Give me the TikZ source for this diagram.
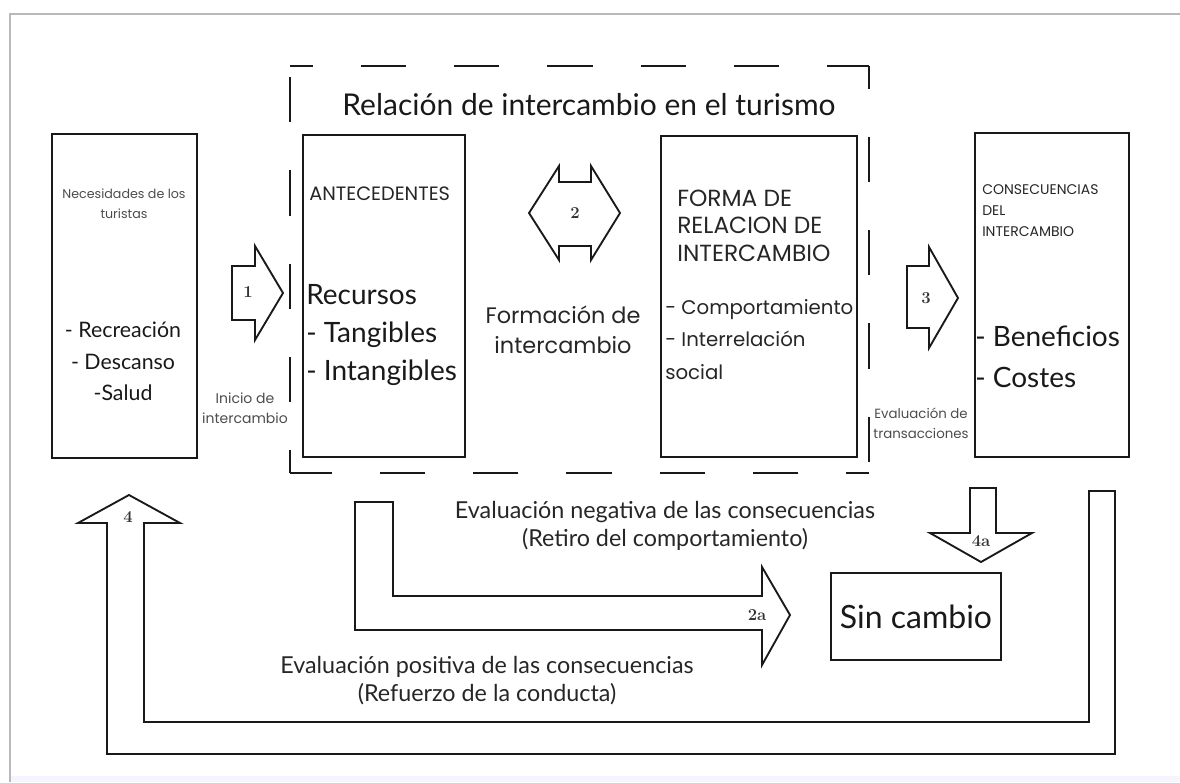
\documentclass[tikz,border=0pt]{standalone}
\usepackage{fontspec}
\newfontfamily\lato{Lato}
\newfontfamily\pop{Poppins}
\newcommand\pxu{0.75pt}

\begin{document}
\begin{tikzpicture}[x=0.75pt, y=-0.75pt,
    caja/.style={draw=black!90, line width=1.5pt, inner sep=0pt},
    flecha/.style={draw=black!90, line width=1.4pt, line join=miter},
    marco/.style={black!90, line width=1.6pt, dash pattern=on 34pt off 36pt, dash phase=17pt},
    num/.style={font=\bfseries\fontsize{12.5}{13}\selectfont, text=black!80, inner sep=0pt},
    chico/.style={font=\pop\fontsize{10.5}{15}\selectfont, text=black!70, align=center, inner sep=0pt},
    grande/.style={font=\lato\fontsize{21}{28.5}\selectfont, text=black!90, align=left, inner sep=0pt},
    mayus/.style={font=\pop\fontsize{14.5}{20.5}\selectfont, text=black!85, align=left, inner sep=0pt},
    medio/.style={font=\pop\fontsize{14.8}{24.4}\selectfont, text=black!85, align=left, inner sep=0pt},
    nota/.style={font=\lato\fontsize{17.5}{21}\selectfont, text=black!85, align=center, inner sep=0pt}]
    \useasboundingbox (0,0) rectangle (1180,782);

    % Marco exterior
    \fill[blue!4] (10,776) rectangle (1180,782);
    \draw[gray!55, line width=1.6pt] (1180,14) -- (10,14) -- (10,782);

    % Recuadro discontinuo
    \draw[marco] (290,66) -- (869,66);
    \draw[marco] (869,66) -- (869,473);
    \draw[marco] (869,473) -- (290,473);
    \draw[marco] (290,473) -- (290,66);
    \node[font=\lato\fontsize{22.5}{24}\selectfont, text=black!90] (titulo) at (589,105) {Relación de intercambio en el turismo};

    % Cajas
    \node[caja, minimum width=145*\pxu, minimum height=324*\pxu] (nec) at (124.5,296) {};
    \node[caja, minimum width=162*\pxu, minimum height=322*\pxu] (ante) at (384,296) {};
    \node[caja, minimum width=196*\pxu, minimum height=321*\pxu] (forma) at (759,296.5) {};
    \node[caja, minimum width=154*\pxu, minimum height=324*\pxu] (cons) at (1052,295) {};
    \node[caja, minimum width=170*\pxu, minimum height=87*\pxu] (sin) at (916,616.5) {};

    % Textos de las cajas
    \node[chico, font=\pop\fontsize{9.5}{15}\selectfont] (necT) at (124,203.5) {Necesidades de los\\turistas};
    \node[grande, align=center, font=\lato\fontsize{16}{23.6}\selectfont] (necL) at (123,361.5) {- Recreación\\- Descanso\\-Salud};
    \node[mayus, anchor=west] (anteT) at (309,194) {ANTECEDENTES};
    \node[grande, anchor=west] (anteL) at (306,335) {Recursos\\- Tangibles\\- Intangibles};
    \node[mayus, font=\pop\fontsize{17.5}{20.6}\selectfont, anchor=west] (formaT) at (677,225.5) {FORMA DE\\RELACION DE\\INTERCAMBIO};
    \node[medio, anchor=west] (formaL) at (665,339.5) {- Comportamiento\\- Interrelación\\social};
    \node[mayus, font=\pop\fontsize{10.5}{15.75}\selectfont, anchor=west] (consT) at (982,211) {CONSECUENCIAS\\DEL\\INTERCAMBIO};
    \node[grande, anchor=west, font=\lato\fontsize{21}{30.75}\selectfont] (consL) at (975,356.5) {- Beneficios\\- Costes};
    \node[font=\lato\fontsize{24}{28}\selectfont, text=black!90, inner sep=0pt] (sinT) at (sin) {Sin cambio};

    % Etiquetas
    \node[chico] (inicio) at (245,408) {Inicio de\\intercambio};
    \node[medio, align=center, font=\pop\fontsize{16.8}{22.5}\selectfont] (formacion) at (563,330) {Formación de\\intercambio};
    \node[chico, font=\pop\fontsize{10}{15}\selectfont] (transac) at (921,423) {Evaluación de\\transacciones};
    \node[nota] (negativa) at (665,526) {Evaluación negativa de las consecuencias\\(Retiro del comportamiento)};
    \node[nota] (positiva) at (487,681) {Evaluación positiva de las consecuencias\\(Refuerzo de la conducta)};

    % Flechas de bloque
    % 1
    \draw[flecha] (232,266) -- (255,266) -- (255,246) -- (283,293) -- (255,340) -- (255,320) -- (232,320) -- cycle;
    \node[num] (n1) at (248,292) {1};
    % 2
    \draw[flecha] (529,213) -- (559,166) -- (559,182) -- (591,182) -- (591,166) -- (620,213)
        -- (591,260) -- (591,246) -- (559,246) -- (559,260) -- cycle;
    \node[num] (n2) at (575,213) {2};
    % 3
    \draw[flecha] (907,266) -- (929,266) -- (929,247) -- (958,298) -- (929,348) -- (929,328) -- (907,328) -- cycle;
    \node[num] (n3) at (926,298) {3};
    % 4
    \draw[flecha] (107,523) -- (107,754) -- (1115,754) -- (1115,491) -- (1089,491) -- (1089,722)
        -- (144,722) -- (144,523) -- (180,523) -- (129,495) -- (78,523) -- cycle;
    \node[num] (n4) at (128,517) {4};
    % 2a
    \draw[flecha] (355,502) -- (393,502) -- (393,596) -- (762,596) -- (762,567) -- (790,615)
        -- (762,665) -- (762,630) -- (355,630) -- cycle;
    \node[num] (n2a) at (757,615) {2a};
    % 4a
    \draw[flecha] (970,488) -- (996,488) -- (996,533) -- (1032,533) -- (981,562) -- (930,533) -- (970,533) -- cycle;
    \node[num] (n4a) at (981,541) {4a};
\end{tikzpicture}
\end{document}
